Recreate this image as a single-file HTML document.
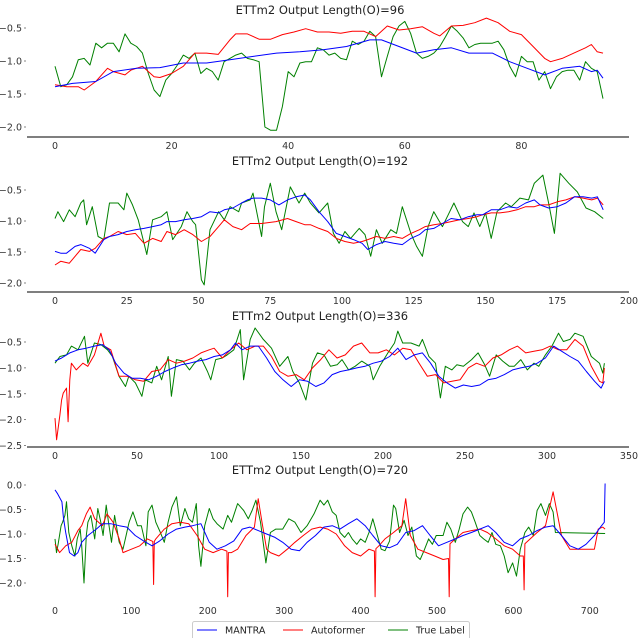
<!DOCTYPE html>
<html><head><meta charset="utf-8"><style>
html,body{margin:0;padding:0;background:#fff;}
svg{display:block;font-family:"DejaVu Sans","Liberation Sans",sans-serif;}
</style></head><body>
<svg id="chart" width="640" height="638" viewBox="0 0 640 638"></svg>
<script>
// ---------- Panel 1 (O=96) ----------
const p1GreenX = [];for(let i=0;i<95;i++)p1GreenX.push(i);
const p1Green = [-1.08,-1.39,-1.36,-1.24,-0.98,-0.96,-1.06,-0.73,-0.80,-0.73,-0.73,-0.86,-0.59,-0.73,-0.78,-0.88,-1.19,-1.44,-1.54,-1.29,-1.19,-1.06,-0.91,-0.96,-0.88,-1.19,-1.11,-1.16,-1.29,-1.01,-0.96,-0.91,-0.88,-0.96,-0.98,-1.01,-2.0,-2.05,-2.05,-1.69,-1.16,-1.24,-1.03,-1.01,-1.01,-0.80,-0.83,-0.91,-0.88,-0.96,-0.98,-0.70,-0.75,-0.70,-0.55,-0.63,-1.24,-0.93,-0.63,-0.47,-0.40,-0.58,-0.88,-0.96,-0.93,-0.88,-0.78,-0.63,-0.47,-0.55,-0.65,-0.80,-0.75,-0.73,-0.73,-0.73,-0.70,-0.83,-1.08,-1.24,-0.93,-1.01,-1.01,-1.29,-1.16,-1.42,-1.24,-1.16,-1.14,-1.14,-1.29,-1.01,-1.11,-1.16,-1.57];
const p1RedX = [0,2,4,5,7,9,10,12,13,15,17,18,20,22,24,26,28,30,31,33,35,37,39,41,43,45,47,49,51,53,55,57,59,61,63,65,66,68,70,72,74,76,78,80,82,84,85,87,89,91,92,93,94];
const p1Red = [-1.36,-1.39,-1.39,-1.44,-1.31,-1.11,-1.16,-1.21,-1.14,-1.08,-1.24,-1.25,-1.19,-1.08,-0.88,-0.88,-0.90,-0.68,-0.59,-0.59,-0.67,-0.67,-0.60,-0.56,-0.51,-0.56,-0.56,-0.58,-0.55,-0.55,-0.63,-0.47,-0.53,-0.51,-0.48,-0.58,-0.62,-0.47,-0.46,-0.42,-0.35,-0.42,-0.55,-0.60,-0.78,-0.96,-1.01,-0.96,-0.88,-0.80,-0.75,-0.86,-0.88];
const p1BlueX = [0,3,7,10,14,18,22,26,30,34,38,42,46,50,54,56,59,62,65,68,71,75,78,81,84,87,90,92,93,94];
const p1Blue = [-1.39,-1.34,-1.31,-1.16,-1.11,-1.10,-1.03,-1.03,-0.98,-0.93,-0.88,-0.86,-0.83,-0.78,-0.68,-0.68,-0.78,-0.88,-0.83,-0.80,-0.88,-0.88,-1.01,-1.11,-1.21,-1.11,-1.08,-1.16,-1.14,-1.26];
const p1XTicks = [0,20,40,60,80];
const p1YTicks = [-0.5,-1.0,-1.5,-2.0];

// ---------- Panel 2 (O=192) ----------
const p2GreenX = [0,1,3,5,7,9,10,11,13,15,17,19,22,24,25,27,29,32,34,37,39,41,44,46,48,49,51,52,54,57,59,61,64,65,68,69,72,73,75,77,79,82,85,87,89,92,95,97,99,101,103,106,108,110,112,114,117,119,121,124,126,128,130,132,135,137,139,142,144,146,148,150,152,154,157,159,162,165,167,170,172,174,176,179,182,185,188,191];
const p2Green = [-0.96,-0.85,-1.01,-0.82,-0.93,-0.71,-0.66,-1.06,-0.77,-1.25,-1.30,-0.71,-0.71,-0.82,-0.55,-0.74,-0.98,-1.54,-0.98,-0.93,-0.85,-1.30,-1.09,-0.85,-1.01,-1.06,-1.95,-2.03,-1.14,-0.85,-0.98,-0.77,-0.85,-0.71,-0.66,-0.55,-1.25,-0.77,-0.39,-0.85,-1.14,-0.45,-0.71,-0.55,-0.71,-0.87,-0.71,-1.20,-1.36,-1.17,-1.28,-1.12,-1.22,-1.57,-1.14,-1.36,-1.14,-1.20,-0.77,-1.20,-1.41,-1.57,-1.09,-0.85,-1.09,-0.90,-0.71,-1.01,-1.09,-0.87,-1.09,-0.87,-1.28,-0.85,-0.71,-0.77,-0.63,-0.66,-0.39,-0.26,-0.71,-1.20,-0.23,-0.39,-0.53,-0.79,-0.85,-0.96];
const p2RedX = [0,2,5,7,9,12,14,17,19,22,25,28,31,34,37,39,42,45,48,51,54,57,59,62,65,68,72,77,81,84,87,89,92,95,98,101,104,107,109,112,115,118,121,124,127,129,132,135,138,141,144,147,149,152,155,158,161,164,167,169,172,175,178,181,184,187,189,191];
const p2Red = [-1.71,-1.65,-1.68,-1.57,-1.46,-1.49,-1.44,-1.28,-1.25,-1.17,-1.22,-1.20,-1.36,-1.28,-1.33,-1.17,-1.22,-1.14,-1.22,-1.33,-1.25,-1.09,-0.98,-1.09,-1.14,-1.04,-1.04,-1.01,-0.96,-1.01,-1.06,-1.06,-1.12,-1.17,-1.28,-1.33,-1.36,-1.33,-1.30,-1.25,-1.28,-1.25,-1.28,-1.20,-1.14,-1.09,-1.06,-1.04,-1.01,-0.98,-0.96,-0.93,-0.90,-0.87,-0.87,-0.85,-0.82,-0.77,-0.77,-0.74,-0.74,-0.69,-0.66,-0.61,-0.63,-0.66,-0.63,-0.74];
const p2BlueX = [0,2,4,7,9,12,14,17,19,22,25,28,31,34,37,39,42,45,48,51,54,57,59,62,65,67,69,72,75,78,81,84,87,89,92,95,98,101,104,107,109,112,115,118,121,124,127,129,132,135,138,141,144,147,149,152,155,158,161,164,167,169,172,175,178,181,184,187,189,191];
const p2Blue = [-1.49,-1.52,-1.52,-1.41,-1.38,-1.44,-1.52,-1.30,-1.25,-1.22,-1.17,-1.14,-1.12,-1.09,-1.06,-1.01,-1.01,-0.98,-0.96,-0.93,-0.85,-0.87,-0.82,-0.79,-0.71,-0.66,-0.63,-0.63,-0.66,-0.74,-0.66,-0.61,-0.58,-0.66,-0.85,-1.01,-1.20,-1.25,-1.30,-1.36,-1.46,-1.38,-1.33,-1.36,-1.38,-1.28,-1.22,-1.14,-1.12,-1.04,-0.96,-0.98,-0.93,-0.90,-0.90,-0.82,-0.82,-0.77,-0.79,-0.71,-0.66,-0.74,-0.79,-0.77,-0.71,-0.61,-0.61,-0.63,-0.61,-0.82];
const p2XTicks = [0,25,50,75,100,125,150,175,200];
const p2YTicks = [-0.5,-1.0,-1.5,-2.0];

// ---------- Panel 3 (O=336) ----------
const p3GreenX = [0,3,7,10,14,18,20,24,28,32,35,39,43,45,49,53,55,59,62,65,69,71,74,78,82,85,89,93,95,98,102,105,109,113,115,119,122,127,132,137,142,145,149,153,157,160,164,168,172,175,179,183,187,192,194,198,203,207,209,212,217,222,224,228,232,235,238,242,245,249,254,258,262,265,269,273,277,280,284,288,292,295,299,303,307,310,314,317,322,327,332,334,335];
const p3Green = [-0.91,-0.78,-0.75,-0.58,-0.65,-0.39,-0.91,-0.52,-0.55,-0.65,-0.78,-1.16,-1.36,-1.16,-1.29,-1.55,-1.23,-1.29,-0.97,-1.23,-0.78,-1.55,-0.84,-0.87,-1.04,-0.91,-0.81,-1.07,-1.23,-0.84,-0.81,-0.75,-0.65,-0.26,-1.23,-0.45,-0.23,-0.45,-0.62,-0.97,-0.78,-1.07,-1.29,-1.62,-0.91,-0.71,-0.75,-0.97,-0.94,-0.84,-1.04,-0.97,-0.87,-0.97,-1.23,-0.97,-0.71,-0.52,-0.29,-0.52,-0.52,-0.58,-0.45,-0.78,-0.91,-1.58,-0.97,-1.04,-0.94,-0.97,-0.84,-0.71,-0.94,-1.16,-0.75,-0.87,-0.97,-0.97,-0.84,-1.04,-0.91,-0.97,-0.75,-0.58,-0.33,-0.49,-0.45,-0.33,-0.39,-0.78,-0.91,-1.10,-0.91];
const p3RedX = [0,1,3,4,5,7,8,9,10,13,17,20,24,28,30,34,39,44,49,54,59,64,69,74,79,84,89,94,97,102,107,112,117,122,127,132,137,142,147,152,157,162,167,172,177,182,187,192,197,202,207,212,217,222,227,232,237,242,247,252,257,262,267,272,277,282,287,292,297,302,307,312,317,322,327,332,334,335];
const p3Red = [-1.97,-2.39,-1.91,-1.62,-1.49,-1.39,-2.04,-1.23,-0.91,-1.04,-0.91,-0.97,-0.75,-0.33,-0.58,-0.65,-1.16,-1.16,-1.23,-1.26,-1.07,-1.04,-0.84,-0.91,-0.87,-0.81,-0.71,-0.65,-0.62,-0.81,-0.65,-0.52,-0.65,-0.58,-0.58,-0.78,-1.07,-1.16,-1.13,-1.23,-1.00,-0.84,-0.65,-0.81,-0.75,-0.58,-0.52,-0.71,-0.71,-0.65,-0.75,-0.62,-0.65,-0.91,-1.16,-1.13,-1.29,-1.26,-1.23,-1.00,-0.91,-0.97,-0.81,-0.75,-0.65,-0.58,-0.71,-0.68,-0.65,-0.58,-0.65,-0.65,-0.45,-0.58,-0.97,-1.26,-1.29,-1.00];
const p3BlueX = [0,4,9,14,19,24,29,33,37,42,47,52,57,62,67,72,77,82,87,92,97,102,107,110,114,119,124,129,134,139,144,149,154,159,164,169,174,179,184,189,194,199,204,209,214,219,224,229,234,239,244,249,254,259,264,269,274,279,284,289,294,299,304,309,314,319,324,329,333,335];
const p3Blue = [-0.87,-0.81,-0.71,-0.65,-0.62,-0.58,-0.55,-0.65,-0.91,-1.10,-1.20,-1.20,-1.23,-1.16,-1.07,-1.00,-0.94,-0.91,-0.87,-0.84,-0.78,-0.75,-0.65,-0.52,-0.65,-0.58,-0.58,-0.81,-1.07,-1.23,-1.36,-1.23,-1.26,-1.36,-1.29,-1.13,-1.07,-1.04,-1.00,-0.97,-0.91,-0.87,-0.78,-0.62,-0.84,-0.75,-0.71,-0.91,-1.16,-1.29,-1.39,-1.33,-1.36,-1.33,-1.23,-1.20,-1.13,-1.04,-1.00,-0.97,-0.91,-0.81,-0.58,-0.68,-0.78,-0.87,-1.07,-1.26,-1.39,-1.26];
const p3XTicks = [0,50,100,150,200,250,300,350];
const p3YTicks = [-0.5,-1.0,-1.5,-2.0,-2.5];

// ---------- Panel 4 (O=720) ----------
const p4GreenX = [0,2,4,8,10,13,15,18,22,26,29,33,35,38,41,43,47,52,56,60,63,67,70,74,78,84,89,93,97,102,108,113,119,122,127,132,138,143,148,153,159,164,170,175,180,185,188,191,196,202,207,212,220,226,231,239,247,253,258,263,269,276,282,289,298,306,314,322,330,339,347,352,357,363,368,373,379,384,389,395,400,406,411,416,422,427,432,438,443,446,451,457,462,467,473,478,483,489,494,499,508,513,518,524,529,534,540,545,550,556,561,567,572,577,583,588,593,599,604,609,615,620,626,631,636,642,647,652,655,720];
const p4Green = [-1.10,-1.38,-1.21,-0.83,-0.76,-0.62,-0.34,-0.97,-1.24,-1.45,-1.10,-0.90,-1.24,-2.00,-1.03,-0.76,-0.62,-1.10,-0.48,-0.76,-1.03,-0.41,-0.76,-1.17,-0.62,-1.17,-1.31,-1.03,-0.76,-0.55,-0.83,-0.83,-1.24,-0.55,-0.41,-0.76,-0.97,-1.17,-0.76,-0.45,-0.24,-0.83,-0.48,-0.69,-0.76,-0.38,-1.24,-1.66,-0.83,-0.48,-0.69,-0.79,-0.90,-0.62,-0.76,-0.38,-0.52,-0.69,-0.52,-0.31,-0.76,-1.59,-0.97,-0.90,-0.90,-0.69,-0.76,-0.97,-0.83,-0.59,-0.31,-0.41,-0.31,-0.55,-0.62,-0.97,-1.07,-0.97,-1.10,-1.21,-1.10,-1.17,-0.97,-0.69,-1.03,-1.31,-1.34,-1.14,-0.41,-0.48,-0.97,-0.72,-1.03,-0.86,-1.45,-1.52,-1.34,-1.10,-1.21,-1.03,-1.03,-0.76,-0.90,-1.17,-0.90,-0.59,-0.45,-0.55,-0.76,-1.03,-1.10,-1.17,-0.97,-1.21,-1.24,-1.45,-1.79,-1.59,-1.86,-1.31,-0.97,-0.86,-1.03,-0.52,-0.38,-0.62,-0.38,-0.55,-0.97,-0.99];
const p4RedX = [0,6,14,22,30,35,41,46,52,62,68,76,84,89,100,111,121,128,129,130,132,143,153,164,175,186,196,207,218,225,226,227,231,239,250,261,266,271,277,282,293,304,314,325,336,347,357,368,379,389,400,411,418,419,420,424,432,443,454,459,465,475,486,497,508,515,516,517,524,534,545,556,566,577,588,599,609,613,614,615,631,642,652,663,674,685,695,706,711,717,720];
const p4Red = [-1.21,-1.38,-1.24,-1.17,-0.93,-0.83,-0.59,-0.45,-0.69,-0.83,-0.59,-0.76,-1.10,-1.38,-1.31,-1.24,-1.10,-1.15,-2.03,-1.15,-1.10,-0.90,-0.79,-0.76,-0.79,-1.03,-1.31,-1.38,-1.31,-1.35,-2.28,-1.38,-1.38,-1.31,-1.03,-0.86,-0.28,-0.76,-1.31,-1.38,-1.45,-1.31,-1.17,-1.03,-0.90,-0.86,-0.90,-1.00,-1.24,-1.38,-1.45,-1.31,-1.35,-2.28,-1.30,-1.24,-1.10,-0.97,-0.83,-0.28,-1.03,-1.31,-1.38,-1.45,-1.52,-1.50,-2.28,-1.20,-1.10,-0.97,-0.93,-0.90,-0.97,-1.10,-1.24,-1.31,-1.45,-1.45,-2.14,-1.20,-0.97,-0.83,-0.14,-1.03,-1.31,-1.31,-1.31,-1.31,-0.90,-0.86,-0.90];
const p4BlueX = [0,3,9,11,14,19,25,30,35,43,54,62,73,84,94,105,116,127,137,148,159,170,180,191,202,212,223,234,245,255,266,277,288,298,309,320,330,341,352,363,373,384,395,406,416,427,438,448,459,470,481,491,502,513,524,534,545,556,567,577,588,599,609,620,631,642,652,663,674,685,695,706,714,719,720];
const p4Blue = [-0.10,-0.17,-0.34,-0.66,-0.97,-1.38,-1.45,-1.38,-1.17,-1.03,-0.90,-0.79,-0.79,-0.83,-0.86,-1.03,-1.14,-1.24,-1.14,-1.00,-0.90,-0.86,-0.83,-0.79,-1.17,-1.31,-1.24,-1.14,-0.90,-0.86,-0.93,-1.00,-1.07,-1.17,-1.31,-1.34,-1.17,-1.03,-0.86,-0.83,-0.90,-0.79,-0.69,-0.83,-1.03,-1.24,-1.28,-1.21,-0.97,-0.93,-0.83,-1.03,-1.24,-1.17,-1.10,-1.03,-0.97,-0.90,-0.83,-0.97,-1.17,-1.24,-1.10,-1.03,-0.93,-0.86,-0.83,-1.03,-1.24,-1.31,-1.21,-1.03,-0.86,-0.76,0.03];
const p4XTicks = [0,100,200,300,400,500,600,700];
const p4YTicks = [0.0,-0.5,-1.0,-1.5,-2.0];

const panels = [
  {name:'panel-o96', title:'ETTm2 Output Length(O)=96', titleY:14, x0:55, xs:5.83, yTop:-0.5, y0:28, ys:66, spineY:137, tickLblY:149,
   xt:p1XTicks, yt:p1YTicks, series:[[p1GreenX,p1Green,'#008000','true-label-line'],[p1RedX,p1Red,'#ff0000','autoformer-line'],[p1BlueX,p1Blue,'#0000ff','mantra-line']]},
  {name:'panel-o192', title:'ETTm2 Output Length(O)=192', titleY:165, x0:55, xs:2.87, yTop:-0.5, y0:190, ys:62, spineY:292, tickLblY:304,
   xt:p2XTicks, yt:p2YTicks, series:[[p2GreenX,p2Green,'#008000','true-label-line'],[p2RedX,p2Red,'#ff0000','autoformer-line'],[p2BlueX,p2Blue,'#0000ff','mantra-line']]},
  {name:'panel-o336', title:'ETTm2 Output Length(O)=336', titleY:320, x0:55, xs:1.64, yTop:-0.5, y0:342, ys:51.75, spineY:447, tickLblY:459,
   xt:p3XTicks, yt:p3YTicks, series:[[p3GreenX,p3Green,'#008000','true-label-line'],[p3RedX,p3Red,'#ff0000','autoformer-line'],[p3BlueX,p3Blue,'#0000ff','mantra-line']]},
  {name:'panel-o720', title:'ETTm2  Output Length(O)=720', titleY:474, x0:55, xs:0.764, yTop:0.0, y0:485, ys:49, spineY:null, tickLblY:614,
   xt:p4XTicks, yt:p4YTicks, series:[[p4GreenX,p4Green,'#008000','true-label-line'],[p4RedX,p4Red,'#ff0000','autoformer-line'],[p4BlueX,p4Blue,'#0000ff','mantra-line']]}
];

const NS='http://www.w3.org/2000/svg';
const svg=document.getElementById('chart');
function mk(tag,attrs,parent){const e=document.createElementNS(NS,tag);for(const k in attrs)e.setAttribute(k,attrs[k]);(parent||svg).appendChild(e);return e;}
function fmt(v){return (v<0?'\u2212':'')+Math.abs(v).toFixed(1);}

panels.forEach(p=>{
  const xScale=v=>p.x0+v*p.xs;
  const yScale=v=>p.y0+(p.yTop-v)*p.ys;
  const g=mk('g',{});
  
  
  const t=mk('text',{x:320,y:p.titleY,'text-anchor':'middle','font-size':'11.5',fill:'#222'},g);
  t.textContent=p.title;
  
  
  if(p.spineY!==null){
    const s=mk('line',{x1:27,x2:629,y1:p.spineY,y2:p.spineY,stroke:'#555','stroke-width':1.6},g);
    
    
  }
  p.yt.forEach(v=>{
    const y=yScale(v);
    const l=mk('text',{x:22,y:y+3.5,'text-anchor':'end','font-size':'9.5',fill:'#333'},g);
    l.textContent=fmt(v);
    
    
    const tk=mk('line',{x1:24,x2:26,y1:y,y2:y,stroke:'#666','stroke-width':0.8},g);
    
    
  });
  p.xt.forEach(v=>{
    const x=xScale(v);
    const l=mk('text',{x:x,y:p.tickLblY,'text-anchor':'middle','font-size':'9.5',fill:'#333'},g);
    l.textContent=String(v);
    
    
  });
  p.series.forEach(s=>{
    const [xa,ya,col,nm]=s;
    let d='';
    for(let i=0;i<xa.length;i++){d+=(i?'L':'M')+xScale(xa[i]).toFixed(1)+','+yScale(ya[i]).toFixed(1);}
    const path=mk('path',{d:d,fill:'none',stroke:col,'stroke-width':1,'stroke-linejoin':'round'},g);
    
    
  });
});

// legend
const lg=mk('g',{});


mk('rect',{x:192.5,y:621.5,width:277,height:20,fill:'#fff',stroke:'#ccc','stroke-width':1,rx:2},lg);
const legendLabels=['MANTRA','Autoformer','True Label'];
const legendColors=['#0000ff','#ff0000','#008000'];
const legendLineX=[197,283,388];
legendLabels.forEach((lab,i)=>{
  const e=mk('g',{},lg);
  
  
  mk('line',{x1:legendLineX[i],x2:legendLineX[i]+20,y1:630,y2:630,stroke:legendColors[i],'stroke-width':1},e);
  const t=mk('text',{x:legendLineX[i]+28,y:633.5,'font-size':'9.5',fill:'#222'},e);
  t.textContent=lab;
});
</script>
</body></html>
